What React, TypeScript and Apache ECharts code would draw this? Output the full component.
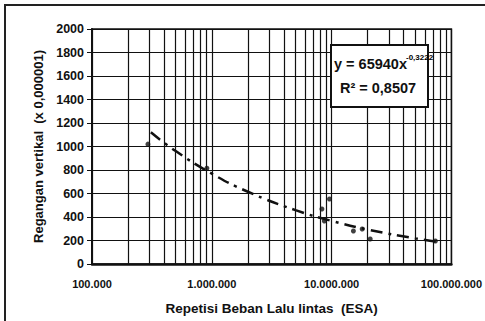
import React, { useEffect, useRef } from "react";
import * as echarts from "echarts";

// Measured points (ESA repetitions, vertical strain x 0,000001)
const pointsX = [293000, 910000, 8300000, 8700000, 9600000, 15200000, 18000000, 21000000, 73500000];
const pointsY = [1020, 815, 468, 366, 553, 281, 298, 213, 196];

// Trend line (y = 65940x^-0,3222)
const trendX = [310000, 500000, 1000000, 2000000, 5000000, 10000000, 20000000, 50000000, 75000000];
const trendY = [1121, 961, 769, 615, 458, 367, 293, 218, 191];

// Minor vertical grid values on the log axis
const minorGridX = [
  200000, 300000, 400000, 500000, 600000, 700000, 800000, 900000,
  2000000, 3000000, 4000000, 5000000, 6000000, 7000000, 8000000, 9000000,
  20000000, 30000000, 40000000, 50000000, 60000000, 70000000, 80000000, 90000000,
];

const yTicks = [0, 200, 400, 600, 800, 1000, 1200, 1400, 1600, 1800, 2000];

const xTitle = "Repetisi Beban Lalu lintas  (ESA)";
const yTitle = "Regangan vertikal  (x 0,000001)";
const eqMain = "y = 65940x";
const eqExp = "-0,3222";
const eqR2 = "R² = 0,8507";

const fmtDots = (v: number) =>
  Math.round(v).toString().replace(/\B(?=(\d{3})+(?!\d))/g, ".");

const FONT = "'Liberation Sans Narrow', 'Liberation Sans', Arial, sans-serif";

export default function App() {
  const ref = useRef<HTMLDivElement>(null);
  useEffect(() => {
    if (!ref.current) return;
    const chart = echarts.init(ref.current, null, { renderer: "svg" });
    chart.setOption({
      animation: false,
      backgroundColor: "#ffffff",
      grid: {
        left: 92,
        right: 32,
        top: 29,
        bottom: 57,
        show: true,
        borderColor: "#111",
        borderWidth: 1.5,
      },
      xAxis: {
        type: "log",
        logBase: 10,
        min: 100000,
        max: 100000000,
        axisLine: { show: true, onZero: false, lineStyle: { color: "#111", width: 2.5 } },
        axisTick: { show: false },
        splitLine: { show: true, lineStyle: { color: "#111", width: 1.2 } },
        axisLabel: {
          formatter: (v: number) => fmtDots(v),
          color: "#111",
          fontFamily: FONT,
          fontWeight: "bold",
          fontSize: 11,
          margin: 14,
        },
        name: xTitle,
        nameLocation: "middle",
        nameGap: 37,
        nameTextStyle: {
          color: "#111",
          fontFamily: FONT,
          fontWeight: "bold",
          fontSize: 13.5,
        },
      },
      yAxis: {
        type: "value",
        min: 0,
        max: 2000,
        interval: 200,
        axisLine: { show: true, lineStyle: { color: "#111", width: 2 } },
        axisTick: { show: true, length: 5, lineStyle: { color: "#111" } },
        splitLine: { show: true, lineStyle: { color: "#111", width: 1.2 } },
        axisLabel: {
          formatter: (v: number) => (yTicks.includes(v) ? String(v) : ""),
          color: "#111",
          fontFamily: FONT,
          fontWeight: "bold",
          fontSize: 12.5,
          margin: 8,
        },
        name: yTitle,
        nameLocation: "middle",
        nameGap: 46,
        nameRotate: 90,
        nameTextStyle: {
          color: "#111",
          fontFamily: "'Liberation Sans', Arial, sans-serif",
          fontWeight: "bold",
          fontSize: 13,
        },
      },
      series: [
        {
          type: "line",
          data: trendX.map((x, i) => [x, trendY[i]]),
          smooth: true,
          showSymbol: false,
          symbol: "none",
          lineStyle: { color: "#111", width: 2.5, type: [12, 6, 3, 6] },
          z: 3,
          markLine: {
            silent: true,
            symbol: "none",
            label: { show: false },
            lineStyle: { color: "#111", width: 1.2, type: "solid", opacity: 1 },
            emphasis: { disabled: true },
            data: minorGridX.map((v) => ({ xAxis: v })),
            z: 1,
          },
        },
        {
          type: "scatter",
          data: pointsX.map((x, i) => [x, pointsY[i]]),
          symbol: "circle",
          symbolSize: 5,
          itemStyle: { color: "#111" },
          z: 4,
        },
      ],
      graphic: [
        { type: "line", shape: { x1: 5, y1: 4, x2: 5, y2: 321 }, style: { stroke: "#222", lineWidth: 2 } },
        { type: "line", shape: { x1: 4, y1: 5, x2: 485, y2: 5 }, style: { stroke: "#222", lineWidth: 2 } },
        {
          type: "rect",
          shape: { x: 331, y: 45, width: 97, height: 62 },
          style: { fill: "#fff", stroke: "#111", lineWidth: 2 },
          z: 10,
        },
        {
          type: "text",
          x: 334,
          y: 64,
          z: 11,
          style: {
            text: eqMain,
            fill: "#111",
            font: `bold 14.5px ${FONT}`,
            verticalAlign: "middle",
            textAlign: "left",
          },
        },
        {
          type: "text",
          x: 406,
          y: 57,
          z: 11,
          style: {
            text: eqExp,
            fill: "#000",
            font: `bold 8px ${FONT}`,
            verticalAlign: "middle",
            textAlign: "left",
          },
        },
        {
          type: "text",
          x: 378,
          y: 88,
          z: 11,
          style: {
            text: eqR2,
            fill: "#111",
            font: `bold 14.5px ${FONT}`,
            verticalAlign: "middle",
            textAlign: "center",
          },
        },
      ],
    });
    return () => chart.dispose();
  }, []);
  return (
    <div
      ref={ref}
      style={{ position: "absolute", left: 0, top: 0, width: 485, height: 321 }}
    />
  );
}
